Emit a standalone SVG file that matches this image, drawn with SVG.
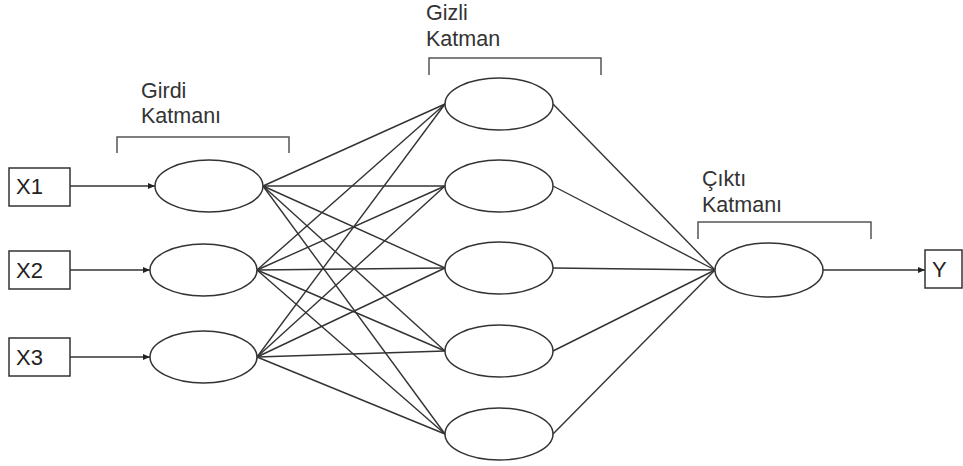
<svg xmlns="http://www.w3.org/2000/svg" width="963" height="466" viewBox="0 0 963 466">
<style>
.n{fill:#fff;stroke:#333;stroke-width:1.5}
.b{fill:#fff;stroke:#333;stroke-width:1.5}
.c{fill:none;stroke:#333;stroke-width:1.4}
.br{fill:none;stroke:#555;stroke-width:1.5}
.t{font-family:"Liberation Sans",Arial,sans-serif;font-size:21.5px;fill:#333}
.tl{font-family:"Liberation Sans",Arial,sans-serif;font-size:22px;fill:#222}
</style>
<defs>
<marker id="ah" markerWidth="7" markerHeight="6" refX="7" refY="3" orient="auto" markerUnits="userSpaceOnUse">
<path d="M0,0 L7,3 L0,6 Z" fill="#222"/>
</marker>
</defs>
<rect width="963" height="466" fill="#fff"/>

<g id="brackets">
<path class="br" d="M117,153 V137 H289 V153"/>
<text class="t" x="141" y="98">Girdi</text>
<text class="t" x="141" y="123">Katmanı</text>
<path class="br" d="M429,75 V58 H601 V75"/>
<text class="t" x="426" y="20">Gizli</text>
<text class="t" x="426" y="46">Katman</text>
<path class="br" d="M698,239 V222 H871 V239"/>
<text class="t" x="702" y="186">Çıktı</text>
<text class="t" x="702" y="212">Katmanı</text>
</g>

<g id="connectors">
<line class="c" x1="70" y1="186" x2="155" y2="186" marker-end="url(#ah)"/>
<line class="c" x1="70" y1="270" x2="150" y2="270" marker-end="url(#ah)"/>
<line class="c" x1="70" y1="357" x2="150" y2="357" marker-end="url(#ah)"/>
<line class="c" x1="823" y1="270" x2="925" y2="270" marker-end="url(#ah)"/>
<!-- input to hidden -->
<line class="c" x1="263" y1="186" x2="445" y2="104"/>
<line class="c" x1="263" y1="186" x2="445" y2="186"/>
<line class="c" x1="263" y1="186" x2="445" y2="268"/>
<line class="c" x1="263" y1="186" x2="445" y2="351"/>
<line class="c" x1="263" y1="186" x2="445" y2="434"/>
<line class="c" x1="257" y1="270" x2="445" y2="104"/>
<line class="c" x1="257" y1="270" x2="445" y2="186"/>
<line class="c" x1="257" y1="270" x2="445" y2="268"/>
<line class="c" x1="257" y1="270" x2="445" y2="351"/>
<line class="c" x1="257" y1="270" x2="445" y2="434"/>
<line class="c" x1="257" y1="357" x2="445" y2="104"/>
<line class="c" x1="257" y1="357" x2="445" y2="186"/>
<line class="c" x1="257" y1="357" x2="445" y2="268"/>
<line class="c" x1="257" y1="357" x2="445" y2="351"/>
<line class="c" x1="257" y1="357" x2="445" y2="434"/>
<!-- hidden to output -->
<line class="c" x1="553" y1="104" x2="715" y2="270"/>
<line class="c" x1="553" y1="186" x2="715" y2="270"/>
<line class="c" x1="553" y1="268" x2="715" y2="270"/>
<line class="c" x1="553" y1="351" x2="715" y2="270"/>
<line class="c" x1="553" y1="434" x2="715" y2="270"/>
</g>

<g id="x1"><rect class="b" x="9" y="168" width="61" height="38"/><text class="tl" x="16" y="194">X1</text></g>
<g id="x2"><rect class="b" x="9" y="251" width="61" height="38"/><text class="tl" x="16" y="278">X2</text></g>
<g id="x3"><rect class="b" x="9" y="338" width="61" height="38"/><text class="tl" x="16" y="365">X3</text></g>

<g id="in1"><ellipse class="n" cx="209" cy="186" rx="54" ry="26"/></g>
<g id="in2"><ellipse class="n" cx="203.5" cy="270" rx="53.5" ry="26"/></g>
<g id="in3"><ellipse class="n" cx="203.5" cy="357" rx="53.5" ry="26"/></g>

<g id="h1"><ellipse class="n" cx="499" cy="104" rx="54" ry="26"/></g>
<g id="h2"><ellipse class="n" cx="499" cy="186" rx="54" ry="26"/></g>
<g id="h3"><ellipse class="n" cx="499" cy="268" rx="54" ry="26"/></g>
<g id="h4"><ellipse class="n" cx="499" cy="351" rx="54" ry="26"/></g>
<g id="h5"><ellipse class="n" cx="499" cy="434" rx="54" ry="26"/></g>

<g id="out"><ellipse class="n" cx="769" cy="270" rx="54" ry="27"/></g>

<g id="y"><rect class="b" x="925" y="250" width="37" height="38"/><text class="tl" x="932" y="277">Y</text></g>
</svg>
